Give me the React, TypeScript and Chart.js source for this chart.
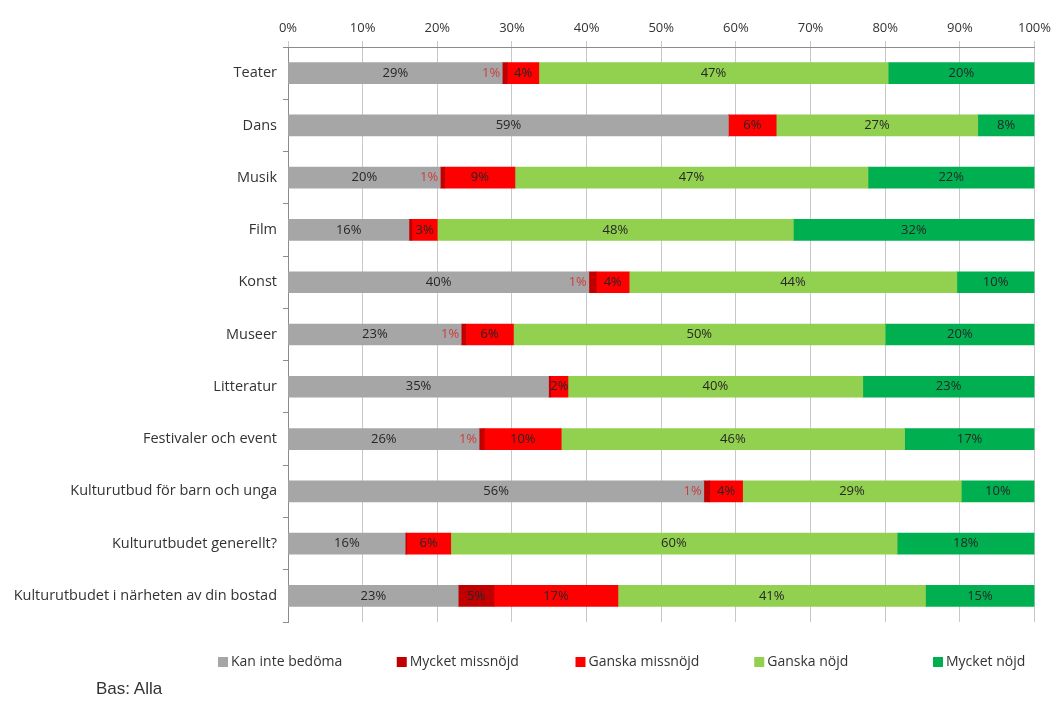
import React, { useEffect, useRef } from "react";
import { Chart, registerables } from "chart.js";

Chart.register(...registerables);

const categories = [
  "Teater",
  "Dans",
  "Musik",
  "Film",
  "Konst",
  "Museer",
  "Litteratur",
  "Festivaler och event",
  "Kulturutbud för barn och unga",
  "Kulturutbudet generellt?",
  "Kulturutbudet i närheten av din bostad",
];

const seriesNames = ["Kan inte bedöma", "Mycket missnöjd", "Ganska missnöjd", "Ganska nöjd", "Mycket nöjd"];
const seriesColors = ["#a6a6a6", "#c00000", "#ff0000", "#92d050", "#00b050"];

const kanInteBedoma = [28.7, 59.0, 20.4, 16.2, 40.3, 23.2, 34.9, 25.6, 55.7, 15.7, 22.8];
const mycketMissnojd = [0.7, 0, 0.6, 0.4, 1.0, 0.6, 0.3, 0.7, 0.8, 0.2, 4.8];
const ganskaMissnojd = [4.2, 6.4, 9.4, 3.4, 4.4, 6.4, 2.3, 10.3, 4.4, 5.9, 16.6];
const ganskaNojd = [46.8, 27.0, 47.3, 47.7, 43.9, 49.8, 39.5, 46.0, 29.3, 59.8, 41.2];
const mycketNojd = [19.6, 7.6, 22.3, 32.3, 10.4, 20.0, 23.0, 17.4, 9.8, 18.4, 14.6];

const xTicks = [0, 10, 20, 30, 40, 50, 60, 70, 80, 90, 100];

const FONT = "'Open Sans', 'DejaVu Sans', sans-serif";

const labelPlugin = {
  id: "segLabels",
  afterDatasetsDraw(chart: any) {
    const ctx = chart.ctx;
    ctx.save();
    ctx.font = `13px ${FONT}`;
    ctx.textBaseline = "middle";
    chart.data.datasets.forEach((ds: any, di: number) => {
      const meta = chart.getDatasetMeta(di);
      meta.data.forEach((bar: any, i: number) => {
        const v = ds.data[i];
        if (v < 0.5) return;
        const txt = Math.round(v) + "%";
        const w = Math.abs(bar.x - bar.base);
        const tw = ctx.measureText(txt).width;
        if (di === 1 && w < tw) {
          ctx.fillStyle = "#c9403f";
          ctx.textAlign = "right";
          ctx.fillText(txt, Math.min(bar.x, bar.base) - 2, bar.y);
        } else {
          ctx.fillStyle = "#262626";
          ctx.textAlign = "center";
          ctx.fillText(txt, (bar.x + bar.base) / 2, bar.y);
        }
      });
    });
    ctx.restore();
  },
};

const legendPlugin = {
  id: "customLegend",
  afterDraw(chart: any) {
    const ctx = chart.ctx;
    ctx.save();
    ctx.font = `14px ${FONT}`;
    ctx.textBaseline = "middle";
    ctx.textAlign = "left";
    const startX = 218;
    const slot = 178.75;
    const y = 662;
    chart.data.datasets.forEach((ds: any, i: number) => {
      const x = startX + i * slot;
      ctx.fillStyle = ds.backgroundColor;
      ctx.fillRect(x, y - 5, 10, 10);
      ctx.fillStyle = "#333333";
      ctx.fillText(ds.label, x + 13, y);
    });
    ctx.restore();
  },
};

export default function App() {
  const ref = useRef<HTMLCanvasElement | null>(null);

  useEffect(() => {
    if (!ref.current) return;
    const seriesData = [kanInteBedoma, mycketMissnojd, ganskaMissnojd, ganskaNojd, mycketNojd];
    const chart = new Chart(ref.current, {
      type: "bar",
      data: {
        labels: categories,
        datasets: seriesData.map((d, i) => ({
          label: seriesNames[i],
          data: d,
          backgroundColor: seriesColors[i],
          borderWidth: 0,
          barThickness: 21,
        })),
      },
      options: {
        indexAxis: "y",
        responsive: false,
        animation: false,
        layout: { padding: { left: 0, right: 21, top: 0, bottom: 82 } },
        plugins: {
          legend: { display: false },
          tooltip: { enabled: false },
        },
        scales: {
          x: {
            position: "top",
            stacked: true,
            min: 0,
            max: 100,
            afterBuildTicks: (s: any) => {
              s.ticks = xTicks.map((v) => ({ value: v }));
            },
            afterFit: (s: any) => {
              s.height = 47;
            },
            ticks: {
              callback: (v: any) => v + "%",
              color: "#333333",
              font: { family: FONT, size: 13 },
              padding: 5,
              maxRotation: 0,
            },
            grid: { color: "#c8c8c8", tickLength: 6, lineWidth: 1 },
            border: { color: "#8c8c8c" },
          },
          y: {
            stacked: true,
            afterFit: (s: any) => {
              s.width = 288;
            },
            ticks: {
              color: "#333333",
              font: { family: FONT, size: 14.5 },
              padding: 6,
            },
            grid: { drawOnChartArea: false, tickLength: 5, color: "#8c8c8c", offset: true },
            border: { color: "#8c8c8c" },
          },
        },
      },
      plugins: [labelPlugin, legendPlugin],
    } as any);
    return () => chart.destroy();
  }, []);

  return (
    <div style={{ position: "absolute", left: 0, top: 0, width: 1056, height: 704, background: "#ffffff" }}>
      <canvas ref={ref} width={1056} height={704} />
      <div
        style={{
          position: "absolute",
          left: 96,
          top: 679,
          fontFamily: "'Liberation Sans', Arial, sans-serif",
          fontSize: 17,
          color: "#333333",
        }}
      >
        Bas: Alla
      </div>
    </div>
  );
}
